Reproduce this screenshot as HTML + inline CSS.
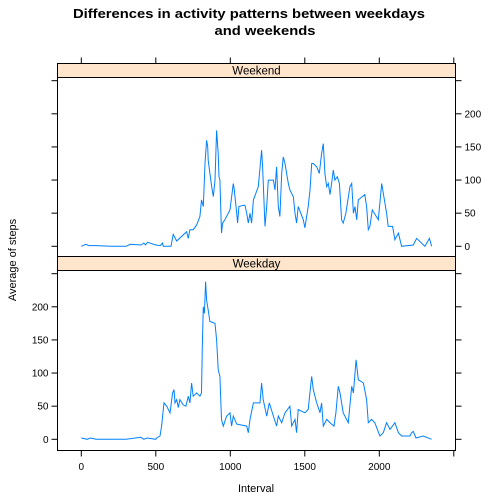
<!DOCTYPE html>
<html><head><meta charset="utf-8"><style>
body{margin:0;background:#fff}
svg{display:block;font-family:"Liberation Sans",sans-serif}
</style></head><body>
<svg id="chart" width="504" height="504" viewBox="0 0 504 504" xmlns="http://www.w3.org/2000/svg">
<rect x="0" y="0" width="504" height="504" fill="#fff"/>
<text x="249" y="18" text-anchor="middle" font-weight="bold" font-size="13" textLength="352" lengthAdjust="spacingAndGlyphs">Differences in activity patterns between weekdays</text>
<text x="265" y="35" text-anchor="middle" font-weight="bold" font-size="13" textLength="101" lengthAdjust="spacingAndGlyphs">and weekends</text>
<text transform="translate(16,260) rotate(-90)" text-anchor="middle" font-size="11">Average of steps</text>
<text x="256" y="492" text-anchor="middle" font-size="11">Interval</text>
<g id="g"></g>
</svg>
<script>
const xTicks=[0,500,1000,1500,2000,2500];
const xTickLabels=["0","500","1000","1500","2000",""];
const yTicks=[0,50,100,150,200,250];
const yTickLabels=["0","50","100","150","200",""];
const weekendX=[0,30,50,100,200,300,330,400,420,430,445,500,530,545,550,602,617,640,707,718,729,751,774,796,807,819,830,841,848,852,863,875,886,897,908,919,924,930,941,948,964,998,1020,1027,1043,1049,1058,1087,1098,1110,1121,1132,1143,1155,1188,1210,1217,1233,1244,1255,1289,1300,1311,1322,1333,1345,1356,1367,1389,1400,1423,1434,1445,1456,1490,1501,1523,1535,1546,1557,1580,1597,1613,1624,1635,1647,1658,1669,1680,1691,1702,1718,1732,1747,1758,1776,1803,1815,1826,1837,1848,1859,1903,1915,1926,1937,1953,1993,2016,2027,2049,2060,2089,2105,2128,2150,2228,2250,2306,2336,2351];
const weekendY=[0,3,1,1,0,0,3,2,5,2,6,2,1,5,0,0,18,8,22,12,25,25,32,45,70,60,125,160,150,130,110,90,75,100,175,140,105,100,20,35,40,55,95,85,50,35,60,62,62,50,35,50,35,70,90,145,120,30,60,100,100,85,120,60,45,110,135,125,95,85,75,50,35,60,40,28,60,85,125,125,120,110,140,155,110,90,95,78,95,115,100,105,95,40,35,50,90,95,50,60,40,70,78,60,25,30,55,40,95,80,50,30,30,10,20,0,2,12,0,12,0];
const weekdayX=[0,40,60,100,200,300,400,420,440,500,506,528,539,555,573,595,613,622,629,640,651,662,684,702,718,729,740,751,774,796,807,812,819,826,834,841,852,863,897,908,919,930,941,953,975,998,1009,1020,1043,1065,1110,1121,1132,1155,1199,1210,1221,1244,1262,1289,1311,1322,1345,1367,1400,1412,1434,1445,1456,1501,1523,1539,1546,1557,1580,1602,1613,1624,1647,1669,1696,1709,1725,1736,1758,1792,1815,1826,1844,1859,1893,1915,1926,1948,1970,2004,2027,2049,2072,2105,2128,2150,2206,2217,2228,2246,2295,2351];
const weekdayY=[2,0,2,0,0,0,3,0,2,0,2,5,20,55,50,40,70,75,55,60,48,60,52,50,65,55,85,65,70,65,70,140,200,190,238,210,195,178,175,150,105,95,30,20,35,40,20,35,23,22,20,10,30,55,55,85,60,35,55,35,20,35,25,40,50,20,30,10,45,40,45,80,95,75,55,40,55,20,30,25,20,40,80,70,40,25,80,70,120,90,85,60,25,30,25,5,10,25,15,25,10,5,5,10,12,2,5,0];

const NS="http://www.w3.org/2000/svg";
const g=document.getElementById('g');
const L=57.5,R=455.5;
const xs=v=>81.3+v*0.149;
const panels=[
 {name:'weekend',label:'Weekend',top:63.5,sb:77.5,bot:256.5,y0:246.3,xs:weekendX,ys:weekendY,labelSide:'right'},
 {name:'weekday',label:'Weekday',top:256.5,sb:270.5,bot:450.5,y0:439.3,xs:weekdayX,ys:weekdayY,labelSide:'left'}
];
const k=0.6625;
function el(t,a){const e=document.createElementNS(NS,t);for(const n in a)e.setAttribute(n,a[n]);g.appendChild(e);return e;}
panels.forEach(p=>{
 const ys=v=>p.y0-v*k;
 const strip=el('rect',{x:L,y:p.top,width:R-L,height:p.sb-p.top,fill:'#ffe5cc',stroke:'#000','stroke-width':1});
 
 
 const st=el('text',{x:(L+R)/2,y:p.sb-3,'text-anchor':'middle','font-size':11.5,fill:'#000'});
 st.textContent=p.label;
 
 
 const fr=el('rect',{x:L,y:p.sb,width:R-L,height:p.bot-p.sb,fill:'none',stroke:'#000','stroke-width':1});
 
 
 yTicks.forEach((t,i)=>{
  const y=ys(t);
  const tl=el('line',{x1:L-6,x2:L,y1:y,y2:y,stroke:'#000'});
  
  
  const tr=el('line',{x1:R,x2:R+6,y1:y,y2:y,stroke:'#000'});
  
  
  if(yTickLabels[i]){
   const lab=el('text',{'font-size':10,fill:'#000',y:y+3.5,x:p.labelSide==='left'?L-9:R+9,'text-anchor':p.labelSide==='left'?'end':'start'});
   lab.textContent=yTickLabels[i];
   
   
  }
 });
 let d='';
 p.xs.forEach((x,i)=>{d+=(i?'L':'M')+xs(x).toFixed(1)+','+ys(p.ys[i]).toFixed(1);});
 const ln=el('path',{d:d,fill:'none',stroke:'#0080ff','stroke-width':1});
 
 
});
xTicks.forEach((t,i)=>{
 const x=xs(t);
 const a=el('line',{x1:x,x2:x,y1:57.5,y2:63.5,stroke:'#000'});
 
 
 const b=el('line',{x1:x,x2:x,y1:450.5,y2:456.5,stroke:'#000'});
 
 
 if(xTickLabels[i]){
  const lab=el('text',{x:x,y:470,'text-anchor':'middle','font-size':10,fill:'#000'});
  lab.textContent=xTickLabels[i];
  
  
 }
});
</script>
</body></html>
